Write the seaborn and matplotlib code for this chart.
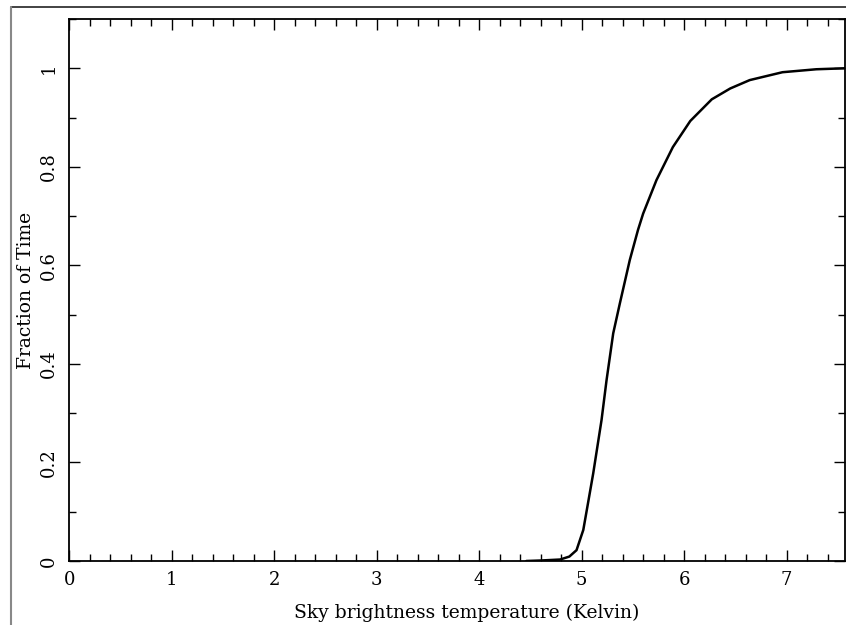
import matplotlib
matplotlib.use("Agg")
import matplotlib.pyplot as plt
from matplotlib.lines import Line2D
from matplotlib.ticker import MultipleLocator
import seaborn as sns
import pandas as pd

temperature = [4.46, 4.60, 4.79, 4.88, 4.95, 5.016, 5.06, 5.113, 5.194, 5.243, 5.308,
               5.373, 5.47, 5.55, 5.60, 5.73, 5.89, 6.06, 6.27, 6.45, 6.64, 6.96, 7.29, 7.57]
fraction = [0.0, 0.001, 0.003, 0.009, 0.022, 0.063, 0.115, 0.178, 0.286, 0.367, 0.462,
            0.523, 0.611, 0.672, 0.705, 0.773, 0.840, 0.893, 0.937, 0.959, 0.976, 0.992, 0.998, 1.0]
x_ticks = [0, 1, 2, 3, 4, 5, 6, 7]
y_ticks = [0, 0.2, 0.4, 0.6, 0.8, 1.0]
y_tick_labels = ["0", "0.2", "0.4", "0.6", "0.8", "1"]

sns.set_style("white")
plt.rcParams["font.family"] = ["DejaVu Serif"]
plt.rcParams["text.color"] = "black"
plt.rcParams["xtick.color"] = "black"
plt.rcParams["ytick.color"] = "black"
plt.rcParams["axes.labelcolor"] = "black"

df = pd.DataFrame({"T": temperature, "F": fraction})

fig = plt.figure(figsize=(8.46, 6.25), dpi=100)
ax = fig.add_axes([69.3 / 846, 64 / 625, (845 - 69.3) / 846, (561 - 19) / 625])

sns.lineplot(data=df, x="T", y="F", ax=ax, color="black", linewidth=1.8, sort=False)

ax.set_xlim(0, 7.57)
ax.set_ylim(0, 1.1)
ax.set_xticks(x_ticks)
ax.set_xticklabels([str(t) for t in x_ticks])
ax.xaxis.set_minor_locator(MultipleLocator(0.2))
ax.set_yticks(y_ticks)
ax.set_yticklabels(y_tick_labels, rotation=90, va="center")
ax.yaxis.set_minor_locator(MultipleLocator(0.1))

ax.tick_params(which="both", direction="in", bottom=True, left=True, top=True, right=True,
               color="black", width=1.0)
ax.tick_params(which="major", length=8, labelsize=13, pad=7)
ax.tick_params(which="minor", length=5)
ax.tick_params(axis="y", which="major", pad=8)

for s in ax.spines.values():
    s.set_color("black")
    s.set_linewidth(1.3)

ax.set_xlabel("Sky brightness temperature (Kelvin)", fontsize=13.5, labelpad=11)
ax.xaxis.label.set_x(0.512)
ax.set_ylabel("Fraction of Time", fontsize=13.5, labelpad=4)

fig.add_artist(Line2D([10.5 / 846, 1.0], [1 - 7.3 / 625, 1 - 7.3 / 625], color="#222222", linewidth=1.2, transform=fig.transFigure))
fig.add_artist(Line2D([10.5 / 846, 10.5 / 846], [0, 1 - 7.3 / 625], color="#888888", linewidth=1.5, transform=fig.transFigure))

fig.savefig("out.png", dpi=100)
